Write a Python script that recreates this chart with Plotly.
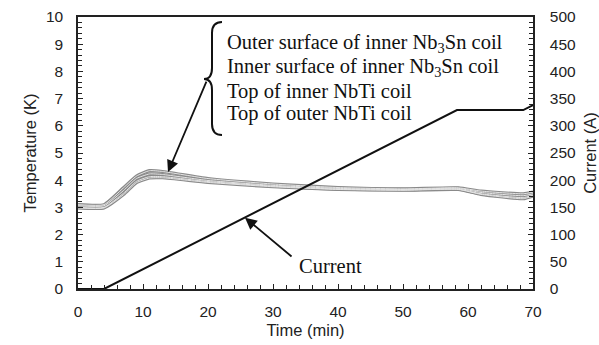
import plotly.graph_objects as go

# Time axis (min) for the temperature traces
time_min = [0, 4, 7, 9, 11, 13, 20, 30, 40, 50, 58.5, 62, 68.5, 70]

# Coil temperatures (K)
temp_outer_nb3sn = [3.10, 3.10, 3.72, 4.15, 4.35, 4.32, 4.06, 3.86, 3.73, 3.68, 3.72, 3.60, 3.50, 3.56]
temp_inner_nb3sn = [3.06, 3.06, 3.62, 4.06, 4.23, 4.21, 3.99, 3.81, 3.70, 3.66, 3.70, 3.55, 3.43, 3.50]
temp_inner_nbti = [3.00, 3.00, 3.52, 3.96, 4.13, 4.13, 3.95, 3.78, 3.67, 3.64, 3.67, 3.50, 3.36, 3.45]
temp_outer_nbti = [2.98, 2.98, 3.47, 3.91, 4.08, 4.09, 3.92, 3.76, 3.66, 3.63, 3.66, 3.48, 3.32, 3.42]

# Excitation current (A)
current_time = [0, 4, 58.3, 68.5, 70]
current_amp = [0, 0, 329, 329, 338]

series_names = [
    "Outer surface of inner Nb<sub>3</sub>Sn coil",
    "Inner surface of inner Nb<sub>3</sub>Sn coil",
    "Top of inner NbTi coil",
    "Top of outer NbTi coil",
]
temps = [temp_outer_nb3sn, temp_inner_nb3sn, temp_inner_nbti, temp_outer_nbti]

fig = go.Figure()

# Temperature traces: grey outline with a pale core
for name, t in zip(series_names, temps):
    fig.add_trace(go.Scatter(x=time_min, y=t, mode="lines", name=name,
                             line=dict(color="#8a8a8a", width=3.2, shape="spline", smoothing=0.5),
                             showlegend=False))
for name, t in zip(series_names, temps):
    fig.add_trace(go.Scatter(x=time_min, y=t, mode="lines", name=name,
                             line=dict(color="#e4e4e4", width=1.0, shape="spline", smoothing=0.5),
                             showlegend=False))

fig.add_trace(go.Scatter(x=current_time, y=current_amp, mode="lines", name="Current",
                         yaxis="y2", line=dict(color="#111111", width=2), showlegend=False))

L, R, T, B = 78, 66, 17, 56
W, H = 599, 345
PW, PH = W - L - R, H - T - B


def px2paper(px, py):
    return (px - L) / PW, (H - B - py) / PH


# Curly brace grouping the four temperature labels
pts = [(222, 22), (212, 22), (212, 33), (212, 68), (212, 79), (204, 79), (212, 79),
       (212, 90), (212, 124), (212, 135), (222, 135)]
pp = [px2paper(*p) for p in pts]
path = (f"M {pp[0][0]},{pp[0][1]} Q {pp[1][0]},{pp[1][1]} {pp[2][0]},{pp[2][1]} "
        f"L {pp[3][0]},{pp[3][1]} Q {pp[4][0]},{pp[4][1]} {pp[5][0]},{pp[5][1]} "
        f"Q {pp[6][0]},{pp[6][1]} {pp[7][0]},{pp[7][1]} "
        f"L {pp[8][0]},{pp[8][1]} Q {pp[9][0]},{pp[9][1]} {pp[10][0]},{pp[10][1]}")
fig.add_shape(type="path", path=path, xref="paper", yref="paper",
              line=dict(color="#111111", width=2))

serif = dict(family="Liberation Serif, Times New Roman, serif", size=20.5, color="#111111")
label_y = [44, 67, 91, 114]
for name, py in zip(series_names, label_y):
    xp, yp = px2paper(225, py)
    fig.add_annotation(x=xp, y=yp, xref="paper", yref="paper", text=name,
                       showarrow=False, xanchor="left", yanchor="middle", font=serif)

# Arrow from brace to the temperature curves
fig.add_annotation(x=13.85, y=4.3, xref="x", yref="y", text="", showarrow=True,
                   ax=39, ay=-92, arrowhead=2, arrowsize=1.3, arrowwidth=1.8,
                   arrowcolor="#111111")

# Current label and arrow
fig.add_annotation(x=25.7, y=131, xref="x", yref="y2", text="", showarrow=True,
                   ax=48, ay=40, arrowhead=2, arrowsize=1.3, arrowwidth=1.8,
                   arrowcolor="#111111")
xp, yp = px2paper(297, 266)
fig.add_annotation(x=xp, y=yp, xref="paper", yref="paper", text="Current",
                   showarrow=False, xanchor="left", yanchor="middle", font=serif)

sans = dict(family="Liberation Sans, Arial, sans-serif", size=15.5, color="#222222")
title_font = dict(family="Liberation Sans, Arial, sans-serif", size=16.5, color="#222222")
axis_line = "#222222"

fig.update_layout(
    width=W, height=H,
    margin=dict(l=L, r=R, t=T, b=B),
    paper_bgcolor="white", plot_bgcolor="white",
    font=sans,
    xaxis=dict(range=[0, 70], dtick=10, tick0=0, ticks="inside", ticklen=5,
               tickcolor=axis_line, showline=True, linecolor=axis_line, linewidth=1.5,
               mirror=True, showgrid=False, zeroline=False, ticklabelstandoff=8,
               automargin=False,
               minor=dict(dtick=2, tick0=0, ticks="inside", ticklen=4, tickcolor=axis_line),
               title=dict(text="Time (min)", font=title_font, standoff=5),
               tickfont=sans),
    yaxis=dict(range=[0, 10], dtick=1, tick0=0, ticks="inside", ticklen=5,
               tickcolor=axis_line, showline=True, linecolor=axis_line, linewidth=1.5,
               showgrid=False, zeroline=False, ticklabelstandoff=10, automargin=False,
               minor=dict(dtick=0.2, tick0=0, ticks="inside", ticklen=4, tickcolor=axis_line),
               title=dict(text="Temperature (K)", font=title_font, standoff=5),
               tickfont=sans),
    yaxis2=dict(range=[0, 500], dtick=50, tick0=0, ticks="inside", ticklen=5,
                tickcolor=axis_line, showline=True, linecolor=axis_line, linewidth=1.5,
                overlaying="y", side="right", showgrid=False, zeroline=False,
                ticklabelstandoff=12, automargin=False,
                minor=dict(dtick=10, tick0=0, ticks="inside", ticklen=4, tickcolor=axis_line),
                title=dict(text="Current (A)", font=title_font, standoff=9),
                tickfont=sans),
)

fig.write_html("out.html")
